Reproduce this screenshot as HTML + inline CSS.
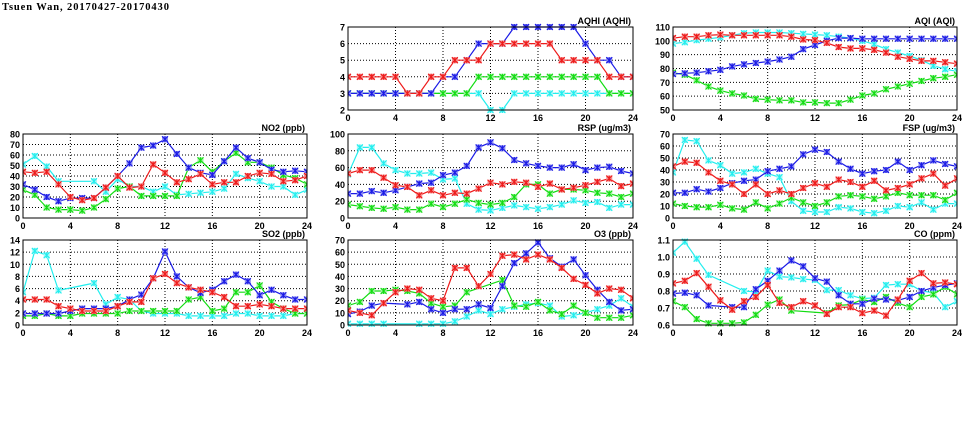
<!DOCTYPE html>
<html><head><meta charset="utf-8"><style>
html,body{margin:0;padding:0;background:#fff;width:975px;height:447px;overflow:hidden}
svg text{font-family:"Liberation Sans",sans-serif;font-weight:bold;fill:#000}
</style></head><body>
<svg id="s" width="975" height="447" xmlns="http://www.w3.org/2000/svg">
<text x="2" y="10" font-size="10.5" letter-spacing="0.9" style="font-family:'Liberation Serif',serif">Tsuen Wan, 20170427-20170430</text>
</svg>
<script>
var N=null;
var P=[
{t:"AQHI (AQHI)",x:348,y:27,w:285,h:83,min:2,max:7,ticks:[2,3,4,5,6,7],
s:[[3,3,3,3,3,3,3,3,3,3,3,3,2,2,3,3,3,3,3,3,3,3,3,3,3],
[3,3,3,3,3,3,3,3,3,3,3,4,4,4,4,4,4,4,4,4,4,4,3,3,3],
[3,3,3,3,3,3,3,3,4,4,5,6,6,6,7,7,7,7,7,7,6,5,5,4,4],
[4,4,4,4,4,3,3,4,4,5,5,5,6,6,6,6,6,6,5,5,5,5,4,4,4]]},
{t:"AQI (AQI)",x:673,y:27,w:284,h:83,min:50,max:110,ticks:[50,60,70,80,90,100,110],
s:[[98,99,100.5,101.5,102.5,104,105.5,106,106,106,105.5,105,104.5,104,103,102,100,97.5,94,91.5,89,86,82,79.5,78],
[77,75.5,71.5,67,64,62,60.5,58,57.5,57,57,55.5,55.5,55,55,57.5,60.5,62,65,67,69,71,73,74,75.5],
[76,76.5,77,78,79,81.5,83,84,85,86.5,88.5,94,97,100,102,102,101.5,101.5,101.5,101.5,101.5,101.5,101.5,101.5,101.5],
[102,103,103,104,104.5,104,104,104,104,104,103,101,100.5,98.5,95.5,94.5,94.5,93.5,91.5,88.5,87,85.5,85.5,84.5,83.5]]},
{t:"NO2 (ppb)",x:23,y:134,w:284,h:84,min:0,max:80,ticks:[0,10,20,30,40,50,60,70,80],
s:[[51,59,49,35,N,N,35,25,37,30,30,25,30,22,23,24,25,28,42,38,35,30,30,22,27],
[27,22,10,8,8,7,10,18,28,30,21,21,21,21,48,55,44,54,62,53,53,48,41,38,32],
[32,27,20,16,19,19,19,29,40,52,67,69,75,61,48,43,41,54,67,57,53,46,44,45,44],
[44,43,44,32,20,17,19,29,40,29,30,51,43,34,37,42,32,34,34,40,43,42,35,36,40]]},
{t:"RSP (ug/m3)",x:348,y:134,w:285,h:84,min:0,max:100,ticks:[0,20,40,60,80,100],
s:[[52,84,84,65,57,53,53,54,46,47,17,10,9,12,15,13,11,13,16,21,18,19,12,16,16],
[16,14,12,11,13,10,10,17,13,17,22,18,16,18,25,40,40,29,34,34,33,30,29,25,29],
[29,29,32,30,33,37,41,42,51,54,62,84,90,83,69,65,62,60,60,64,57,60,61,56,53],
[53,57,57,48,39,37,27,33,27,30,29,35,42,40,43,42,37,41,34,36,39,43,47,38,41]]},
{t:"FSP (ug/m3)",x:673,y:134,w:284,h:84,min:0,max:70,ticks:[0,10,20,30,40,50,60,70],
s:[[38,65,64,48,44,37,38,41,37,34,14,6,5,5,9,8,5,4,6,10,9,13,7,12,12],
[12,10,9,9,11,8,7,13,8,12,17,13,10,13,18,19,18,16,18,21,19,19,19,15,21],
[21,21,24,22,25,29,31,32,39,41,43,53,57,55,47,41,37,39,40,47,40,44,48,45,43],
[43,47,46,38,31,28,20,28,20,23,20,25,29,26,32,30,26,31,23,25,28,33,37,27,33]]},
{t:"SO2 (ppb)",x:23,y:240,w:284,h:85,min:0,max:14,ticks:[0,2,4,6,8,10,12,14],
s:[[5.4,12.2,11.5,5.7,N,N,6.9,3.4,4.6,4.2,2.3,1.9,1.9,1.9,1.5,1.5,1.5,1.5,1.9,1.9,1.5,1.5,1.5,1.9,1.9],
[1.5,1.5,1.9,1.5,1.5,1.9,1.9,1.9,1.9,2.3,2.3,2.3,2.3,2.3,4.2,4.6,2.3,2.7,5.4,5.4,6.5,3.8,2.7,1.9,1.9],
[1.9,1.9,1.9,1.9,2.3,2.7,2.7,2.7,3.1,4.2,5,7.7,12.1,8,6.2,5.3,5.8,7.2,8.3,7.2,4.9,5.8,4.9,4.2,4.2],
[4.2,4.2,4.2,3.1,2.7,2.3,2.3,2.3,3.1,3.8,3.8,7.7,8.4,6.9,6.2,5.8,5.4,4.6,3.1,3.1,3.4,3.1,2.7,2.7,2.7]]},
{t:"O3 (ppb)",x:348,y:240,w:285,h:85,min:0,max:70,ticks:[0,10,20,30,40,50,60,70],
s:[[1,1,1,1,N,N,1,1,1,3,7,12,9,13,15,17,18,16,7,8,10,13,16,22,15],
[16,19,28,28,29,28,26,18,15,16,27,N,N,37,16,15,19,12,9,16,10,6,6,6,8],
[9,11,16,18,N,17,19,13,10,13,13,17,14,32,51,59,68,55,48,54,41,29,19,12,13],
[12,10,8,18,27,30,29,22,20,47,47,32,42,57,58,54,58,54,47,38,33,26,30,29,22]]},
{t:"CO (ppm)",x:673,y:240,w:284,h:85,min:0.6,max:1.1,ticks:[0.6,0.7,0.8,0.9,1.0,1.1],dec:1,
s:[[1.025,1.09,.99,.895,N,N,.8,.795,.92,.885,.88,.87,.865,.805,.805,.775,.755,.76,.835,.84,.84,.8,.79,.705,.74],
[.74,.705,.635,.61,.61,.61,.615,.66,.72,.75,.685,N,N,.67,.715,.72,.75,.735,.765,.73,.705,.765,.78,.825,.78],
[.785,.79,.775,.715,N,.705,.705,.81,.86,.92,.98,.945,.875,.855,.775,.725,.725,.755,.75,.745,.765,.8,.82,.835,.845],
[.845,.86,.905,.825,.745,.69,.74,.765,.835,.73,.705,.74,.715,.665,.705,.705,.67,.685,.655,.75,.86,.905,.845,.85,.84]]}
];
var C=["#22eeee","#11dd11","#1a1ae6","#ee1a1a"];
var F=["#aaf8f8","#a0f0a0","#9090f0","#f49090"];
var o="";
P.forEach(function(p){
 function X(i){return p.x+p.w*i/24}
 function Y(v){return p.y+p.h-(v-p.min)/(p.max-p.min)*p.h}
 p.ticks.forEach(function(t){var y=Y(t);
  if(t>p.min&&t<p.max)o+='<line x1="'+p.x+'" x2="'+(p.x+p.w)+'" y1="'+y+'" y2="'+y+'" stroke="#000" stroke-width="1" stroke-dasharray="1,2"/>';
  o+='<text x="'+(p.x-3)+'" y="'+(y+3.5)+'" font-size="9" text-anchor="end">'+(p.dec?t.toFixed(1):t)+'</text>';});
 for(var i=0;i<=24;i+=4){var x=X(i);
  if(i>0&&i<24)o+='<line x1="'+x+'" x2="'+x+'" y1="'+p.y+'" y2="'+(p.y+p.h)+'" stroke="#000" stroke-dasharray="1,2"/>';
  o+='<text x="'+x+'" y="'+(p.y+p.h+11)+'" font-size="9" text-anchor="middle">'+i+'</text>';}
 o+='<text x="'+(p.x+p.w-2)+'" y="'+(p.y-3)+'" font-size="9" text-anchor="end">'+p.t+'</text>';
 o+='<svg x="'+p.x+'" y="'+(p.y-4)+'" width="'+p.w+'" height="'+(p.h+8)+'" overflow="hidden"><g transform="translate('+(-p.x)+','+(-(p.y-4))+')">';
 p.s.forEach(function(s,k){var pts=[];s.forEach(function(v,i){if(v!==null)pts.push(X(i).toFixed(1)+','+Y(v).toFixed(1));});
  o+='<polyline points="'+pts.join(' ')+'" fill="none" stroke="'+C[k]+'" stroke-width="1.2"/>';
  s.forEach(function(v,i){if(v===null)return;var x=X(i),y=Y(v);
   o+='<rect x="'+(x-3)+'" y="'+(y-3)+'" width="6" height="6" fill="'+F[k]+'"/>';
   o+='<path d="M'+(x-3)+' '+(y-3)+'L'+(x+3)+' '+(y+3)+'M'+(x+3)+' '+(y-3)+'L'+(x-3)+' '+(y+3)+'M'+x+' '+(y-3)+'V'+(y+3)+'" stroke="'+C[k]+'" stroke-width="1.1"/>';});
 });
 o+='</g></svg>';
 o+='<rect x="'+p.x+'" y="'+p.y+'" width="'+p.w+'" height="'+p.h+'" fill="none" stroke="#000" stroke-width="1"/>';
});
document.getElementById("s").insertAdjacentHTML("beforeend",o);
</script>
</body></html>
